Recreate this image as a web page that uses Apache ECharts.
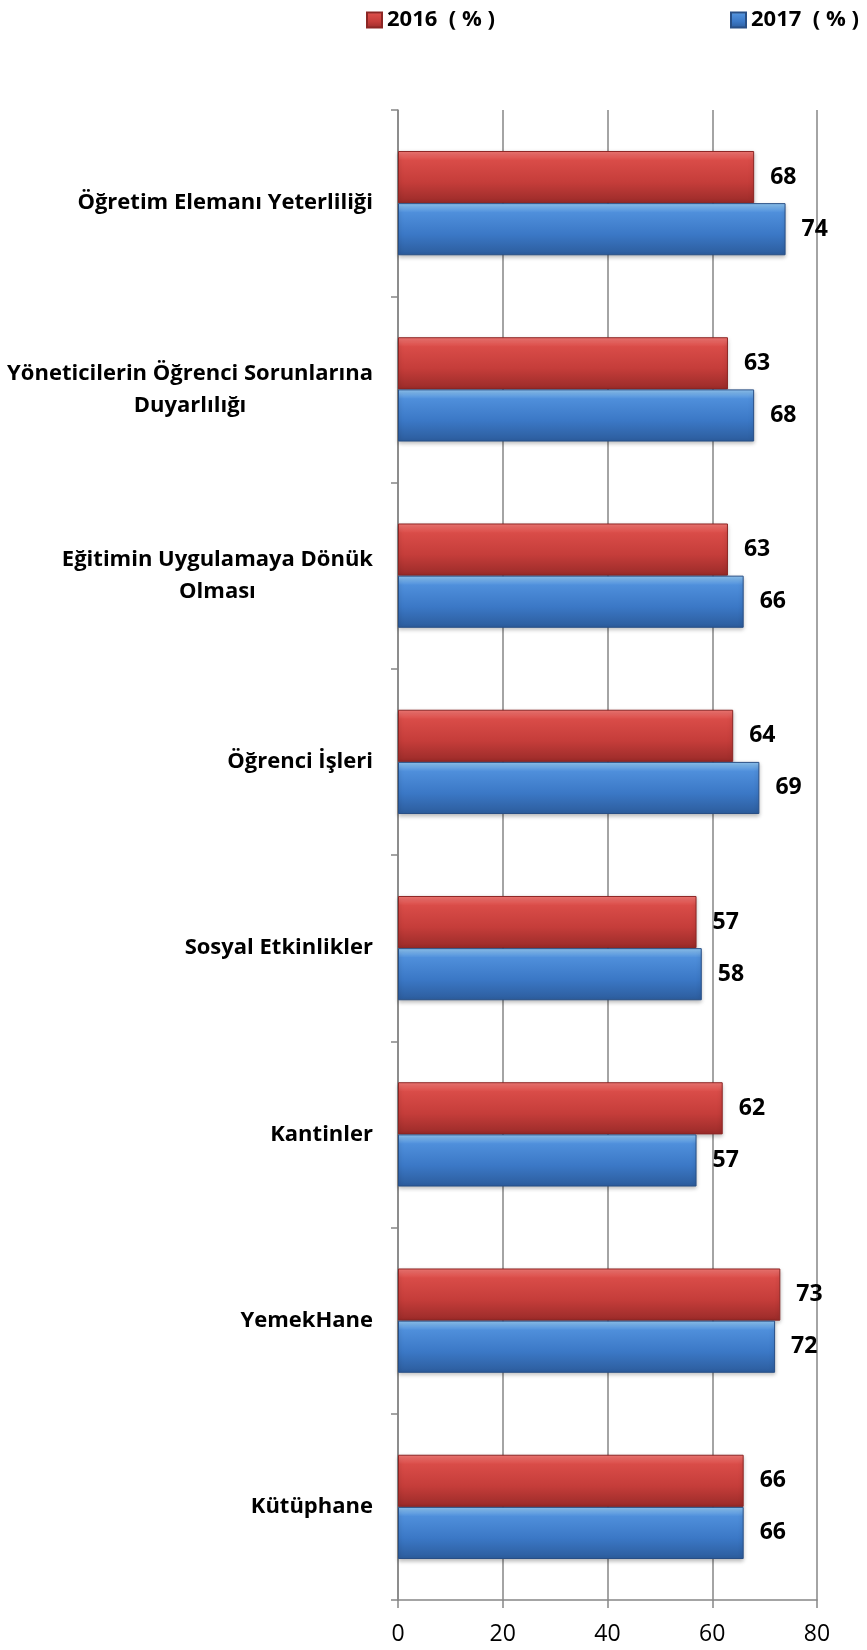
<!DOCTYPE html>
<html>
<head>
<meta charset="utf-8">
<script src="https://cdn.jsdelivr.net/npm/echarts@6/dist/echarts.min.js"></script>
<style>
  html, body { margin: 0; padding: 0; background: #fff; }
  #myChart { width: 867px; height: 1650px; }
</style>
</head>
<body>
<div id="myChart"></div>
<script>
// kategoriler (yukarıdan aşağıya)
const categories = [
  'Öğretim Elemanı Yeterliliği',
  'Yöneticilerin Öğrenci Sorunlarına\nDuyarlılığı',
  'Eğitimin Uygulamaya Dönük\nOlması',
  'Öğrenci İşleri',
  'Sosyal Etkinlikler',
  'Kantinler',
  'YemekHane',
  'Kütüphane'
]
const values2016 = [68, 63, 63, 64, 57, 62, 73, 66]
const values2017 = [74, 68, 66, 69, 58, 57, 72, 66]
const xTicks = [0, 20, 40, 60, 80]
const seriesNames = ['2016  ( % )', '2017  ( % )']

const fontFamily = '"Open Sans", "Noto Sans", sans-serif'

// 3D görünümlü gradyanlar
const redGrad = new echarts.graphic.LinearGradient(0, 0, 0, 1, [
  { offset: 0, color: '#f47a76' },
  { offset: 0.18, color: '#d94c48' },
  { offset: 0.6, color: '#c53d3a' },
  { offset: 1, color: '#9a2b29' }
])
const blueGrad = new echarts.graphic.LinearGradient(0, 0, 0, 1, [
  { offset: 0, color: '#92c8f4' },
  { offset: 0.18, color: '#4f8fdb' },
  { offset: 0.6, color: '#3b78c6' },
  { offset: 1, color: '#2c5c9c' }
])

const labelStyle = {
  show: true,
  position: 'right',
  distance: 16,
  color: '#000',
  fontWeight: 'bold',
  fontSize: 23,
  fontFamily: fontFamily
}

const legendText = { color: '#000', fontWeight: 'bold', fontSize: 22, fontFamily: fontFamily }

const options = {
  animation: false,
  legend: [
    {
      data: [seriesNames[0]],
      left: 361, top: 4,
      icon: 'rect', itemWidth: 15, itemHeight: 15, itemGap: 4,
      textStyle: legendText
    },
    {
      data: [seriesNames[1]],
      left: 725, top: 4,
      icon: 'rect', itemWidth: 15, itemHeight: 15, itemGap: 4,
      textStyle: legendText
    }
  ],
  grid: { left: 398, right: 50, top: 110, bottom: 50, containLabel: false },
  xAxis: {
    type: 'value',
    min: 0, max: 80, interval: 20,
    axisLine: { show: true, lineStyle: { color: '#868686', width: 1.5 } },
    axisTick: { show: true, length: 8, lineStyle: { color: '#868686', width: 1.5 } },
    splitLine: { show: true, lineStyle: { color: '#868686', width: 1.5 } },
    axisLabel: {
      margin: 23,
      color: '#000', fontSize: 23, fontFamily: fontFamily,
      formatter: v => xTicks.includes(v) ? String(v) : ''
    }
  },
  yAxis: {
    type: 'category',
    inverse: true,
    data: categories,
    axisLine: { show: true, lineStyle: { color: '#868686', width: 1.5 } },
    axisTick: { show: true, length: 7, lineStyle: { color: '#868686', width: 1.5 } },
    axisLabel: {
      margin: 25,
      color: '#000', fontWeight: 'bold', fontSize: 22, fontFamily: fontFamily,
      lineHeight: 32,
      formatter: v => v.split('\n').map(s => '{c|' + s + '}').join('\n'),
      rich: {
        c: { align: 'center', color: '#000', fontWeight: 'bold', fontSize: 22, fontFamily: fontFamily, lineHeight: 32 }
      }
    }
  },
  series: [
    {
      name: seriesNames[0],
      type: 'bar',
      data: values2016,
      barGap: '0%',
      barCategoryGap: '44%',
      itemStyle: { color: redGrad, borderColor: '#8c2624', borderWidth: 1, shadowColor: 'rgba(0,0,0,0.25)', shadowBlur: 4, shadowOffsetY: 2 },
      label: labelStyle
    },
    {
      name: seriesNames[1],
      type: 'bar',
      data: values2017,
      barGap: '0%',
      barCategoryGap: '44%',
      itemStyle: { color: blueGrad, borderColor: '#284f86', borderWidth: 1, shadowColor: 'rgba(0,0,0,0.25)', shadowBlur: 4, shadowOffsetY: 2 },
      label: labelStyle
    }
  ]
}

const echart = echarts.init(document.getElementById('myChart'))
echart.setOption(options)
</script>
</body>
</html>
